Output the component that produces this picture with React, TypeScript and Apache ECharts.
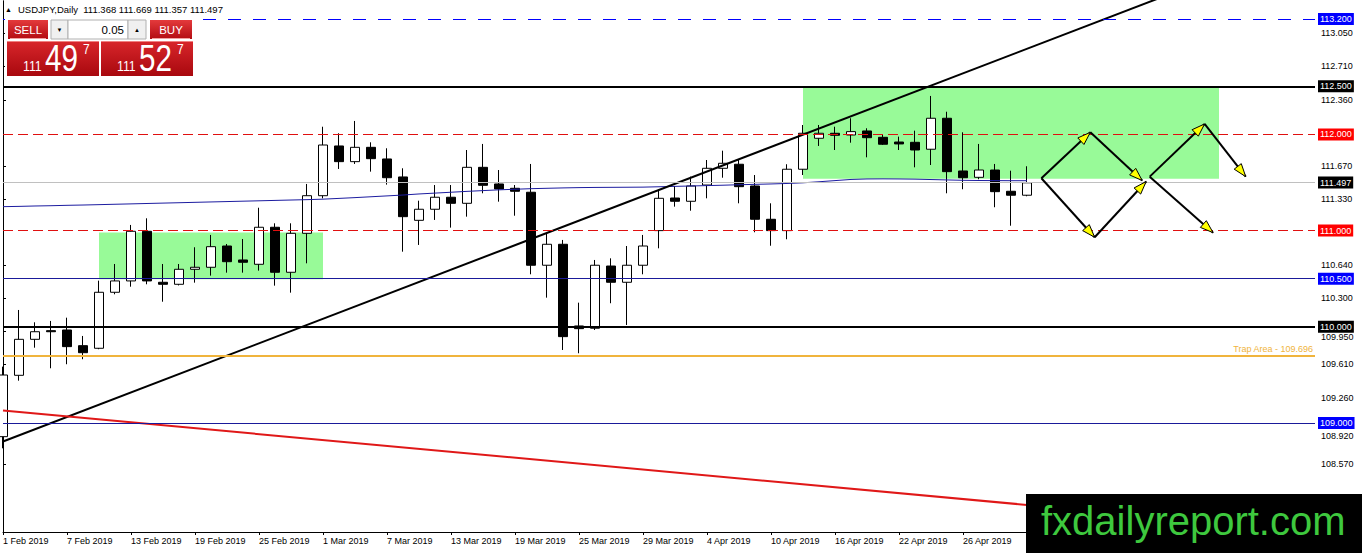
import React, { useEffect, useRef } from 'react';
import * as echarts from 'echarts';

const FONT = '"Liberation Sans", Arial, sans-serif';

// ---- categories (trading days) ----
const dates = [
  '1 Feb 2019', '4 Feb 2019', '5 Feb 2019', '6 Feb 2019', '7 Feb 2019', '8 Feb 2019', '11 Feb 2019', '12 Feb 2019',
  '13 Feb 2019', '14 Feb 2019', '15 Feb 2019', '18 Feb 2019', '19 Feb 2019', '20 Feb 2019', '21 Feb 2019', '22 Feb 2019',
  '25 Feb 2019', '26 Feb 2019', '27 Feb 2019', '28 Feb 2019',
  '1 Mar 2019', '4 Mar 2019', '5 Mar 2019', '6 Mar 2019', '7 Mar 2019', '8 Mar 2019', '11 Mar 2019', '12 Mar 2019',
  '13 Mar 2019', '14 Mar 2019', '15 Mar 2019', '18 Mar 2019', '19 Mar 2019', '20 Mar 2019', '21 Mar 2019', '22 Mar 2019',
  '25 Mar 2019', '26 Mar 2019', '27 Mar 2019', '28 Mar 2019', '29 Mar 2019',
  '1 Apr 2019', '2 Apr 2019', '3 Apr 2019', '4 Apr 2019', '5 Apr 2019', '8 Apr 2019', '9 Apr 2019', '10 Apr 2019',
  '11 Apr 2019', '12 Apr 2019', '15 Apr 2019', '16 Apr 2019', '17 Apr 2019', '18 Apr 2019', '19 Apr 2019', '22 Apr 2019',
  '23 Apr 2019', '24 Apr 2019', '25 Apr 2019', '26 Apr 2019', '29 Apr 2019', '30 Apr 2019', '1 May 2019', '2 May 2019',
];
const LAST_LABEL_INDEX = 60;
const TOTAL_SLOTS = 83; // candles + empty right margin (chart shift)

// ---- OHLC ----
const opens = [
  108.858, 109.496, 109.870, 109.960, 109.967, 109.804, 109.777, 110.359, 110.477, 110.993,
  110.463, 110.442, 110.598, 110.619, 110.840, 110.695, 110.650, 111.035, 110.567, 110.972,
  111.363, 111.880, 111.717, 111.866, 111.745, 111.558, 111.107, 111.222, 111.347, 111.284,
  111.658, 111.485, 111.440, 111.399, 110.640, 110.858, 110.009, 109.985, 110.632, 110.463,
  110.640, 111.000, 111.339, 111.305, 111.474, 111.648, 111.690, 111.464, 111.118, 111.000,
  111.638, 111.960, 112.012, 111.994, 112.036, 111.970, 111.921, 111.918, 111.846, 112.168,
  111.620, 111.554, 111.630, 111.409, 111.368,
];
const highs = [
  109.586, 110.175, 110.047, 110.061, 110.095, 109.905, 110.480, 110.653, 111.059, 111.128,
  110.653, 110.653, 110.827, 110.955, 110.861, 110.913, 111.238, 111.076, 111.076, 111.485,
  112.080, 112.012, 112.140, 111.918, 111.856, 111.648, 111.311, 111.474, 111.474, 111.838,
  111.901, 111.630, 111.474, 111.693, 110.965, 110.903, 110.251, 110.695, 110.712, 110.840,
  110.955, 111.430, 111.464, 111.561, 111.734, 111.831, 111.734, 111.578, 111.284, 111.690,
  112.098, 112.098, 112.080, 112.168, 112.064, 111.994, 111.977, 112.039, 112.400, 112.236,
  112.022, 111.901, 111.693, 111.623, 111.669,
];
const lows = [
  108.737, 109.440, 109.783, 109.569, 109.611, 109.663, 109.767, 110.338, 110.417, 110.442,
  110.261, 110.430, 110.459, 110.532, 110.563, 110.563, 110.584, 110.428, 110.355, 110.660,
  111.336, 111.641, 111.693, 111.613, 111.478, 110.781, 110.851, 111.111, 111.031, 111.145,
  111.388, 111.301, 111.155, 110.546, 110.303, 109.759, 109.725, 109.967, 110.245, 110.019,
  110.546, 110.816, 111.249, 111.207, 111.336, 111.550, 111.284, 110.983, 110.843, 110.910,
  111.578, 111.880, 111.838, 111.914, 111.762, 111.890, 111.838, 111.658, 111.682, 111.388,
  111.430, 111.534, 111.243, 111.051, 111.357,
];
const closes = [
  109.499, 109.870, 109.949, 109.949, 109.794, 109.731, 110.359, 110.477, 110.993, 110.477,
  110.442, 110.598, 110.619, 110.833, 110.677, 110.671, 111.035, 110.567, 110.972, 111.363,
  111.890, 111.717, 111.866, 111.748, 111.550, 111.145, 111.222, 111.347, 111.284, 111.658,
  111.471, 111.433, 111.409, 110.640, 110.858, 109.898, 109.981, 110.640, 110.463, 110.640,
  110.840, 111.336, 111.305, 111.464, 111.648, 111.700, 111.457, 111.118, 111.000, 111.638,
  112.012, 112.012, 111.991, 112.029, 111.966, 111.898, 111.901, 111.838, 112.168, 111.613,
  111.550, 111.630, 111.405, 111.368, 111.497,
];

// moving average
const movingAverage = [
  111.249, 111.252, 111.256, 111.259, 111.263, 111.266, 111.270, 111.274, 111.278, 111.282,
  111.286, 111.290, 111.294, 111.298, 111.302, 111.306, 111.310, 111.314, 111.318, 111.322,
  111.327, 111.335, 111.343, 111.352, 111.361, 111.370, 111.381, 111.390, 111.399, 111.408,
  111.416, 111.424, 111.430, 111.436, 111.440, 111.444, 111.447, 111.449, 111.450, 111.451,
  111.452, 111.456, 111.460, 111.464, 111.468, 111.472, 111.477, 111.481, 111.485, 111.490,
  111.497, 111.508, 111.520, 111.532, 111.537, 111.538, 111.537, 111.535, 111.531, 111.527,
  111.523, 111.521, 111.520, 111.519, 111.519,
];

// trend lines: price at first slot and at last slot
const supportTrend = [108.808, 114.038];
const fallingTrend = [109.13, 107.872];

// horizontal levels
const levels = [113.2, 112.5, 112.0, 111.497, 111.0, 110.5, 110.0, 109.696, 109.0];
const trapLabel = 'Trap Area - 109.696';

// y-axis tick labels
const yTicks = [113.05, 112.71, 112.36, 111.67, 111.33, 110.64, 110.3, 109.95, 109.61, 109.26, 108.92, 108.57];
const partlyHiddenTicks = [109.95, 108.92];
const Y_MIN = 107.867;
const Y_MAX = 113.387;

// rectangles [slotFrom, priceTop, slotTo, priceBottom]
const zones = [
  [6, 110.98, 20, 110.494],
  [50, 112.5, 76, 111.54],
];

// projection arrows [slotFrom, priceFrom, slotTo, priceTo]
const arrows = [
  [64.9, 111.544, 67.96, 112.022],
  [67.96, 112.022, 71.2, 111.521],
  [64.9, 111.544, 68.23, 110.931],
  [68.23, 110.931, 71.45, 111.511],
  [71.67, 111.561, 75.1, 112.109],
  [75.1, 112.109, 77.67, 111.561],
  [71.67, 111.561, 75.63, 110.979],
];

const headerText = 'USDJPY,Daily  111.368 111.669 111.357 111.497';
const sellPrice = ['111', '49', '7'];
const buyPrice = ['111', '52', '7'];
const lotSize = '0.05';
const watermark = 'fxdailyreport.com';

function buildOption() {
  const categories = [
    ...dates,
    ...Array.from({ length: TOTAL_SLOTS - dates.length }, (_, i) => 'slot' + (i + 1)),
  ];
  const candleData = dates.map((_, i) => [opens[i], closes[i], lows[i], highs[i]]);
  const endpoints = (pair: number[]) =>
    categories.map((_, i) => (i === 0 ? pair[0] : i === TOTAL_SLOTS - 1 ? pair[1] : null));

  const levelStyle: any[] = [
    { color: '#0000ff', type: [13, 12], width: 1, bg: '#0000ff' },
    { color: '#000000', type: 'solid', width: 2, bg: '#000000' },
    { color: '#e01010', type: [10, 5], width: 1, bg: '#ff0000' },
    { color: '#c0c0c0', type: 'solid', width: 1, bg: '#000000' },
    { color: '#e01010', type: [10, 5], width: 1, bg: '#ff0000' },
    { color: '#1a1a9a', type: 'solid', width: 1, bg: '#0000ff' },
    { color: '#000000', type: 'solid', width: 2, bg: '#000000' },
    { color: '#f0b43c', type: 'solid', width: 2, bg: null },
    { color: '#1a1a9a', type: 'solid', width: 1, bg: '#0000ff' },
  ];

  const markLineData = levels.map((v, i) => {
    const s = levelStyle[i];
    const label = s.bg
      ? {
          show: true,
          position: 'end',
          distance: 3,
          formatter: v.toFixed(3),
          color: '#ffffff',
          backgroundColor: s.bg,
          padding: [2, 2, 1, 2],
          fontSize: 9,
          lineHeight: 9,
          fontFamily: FONT,
        }
      : {
          show: true,
          position: 'insideEndTop',
          distance: 2,
          formatter: trapLabel,
          color: '#f0b43c',
          fontSize: 9,
          fontFamily: FONT,
        };
    return { yAxis: v, lineStyle: { color: s.color, type: s.type, width: s.width }, label };
  });

  const red = new echarts.graphic.LinearGradient(0, 0, 0, 1, [
    { offset: 0, color: '#e43a3c' },
    { offset: 1, color: '#b30c12' },
  ]);
  const redBox = new echarts.graphic.LinearGradient(0, 0, 0, 1, [
    { offset: 0, color: '#d8262b' },
    { offset: 1, color: '#a8080e' },
  ]);

  const txt = (x: number, y: number, text: string, size: number, color: string, extra: any = {}) => ({
    type: 'text',
    x,
    y,
    z: 100,
    ...extra,
    style: {
      text,
      fill: color,
      font: `${size}px ${FONT}`,
      align: extra.align || 'left',
      verticalAlign: 'middle',
    },
  });

  const priceBox = (x: number, parts: string[]) => [
    { type: 'rect', z: 100, shape: { x, y: 41, width: 92, height: 35 }, style: { fill: redBox } },
    { type: 'rect', z: 100, shape: { x, y: 41, width: 92, height: 1 }, style: { fill: '#f08080' } },
    txt(x + 16, 66.5, parts[0], 14, '#fff', { scaleX: 0.88 }),
    txt(x + 38, 58, parts[1], 37, '#fff', { scaleX: 0.8 }),
    txt(x + 76, 49.5, parts[2], 15, '#fff', { scaleX: 0.8 }),
  ];

  const graphic = [
    txt(5, 9.5, '▲', 7, '#000', {}),
    txt(18, 9.5, headerText, 9.5, '#000'),
    // trade panel
    { type: 'rect', z: 100, shape: { x: 5, y: 19, width: 189, height: 58 }, style: { fill: '#ffffff' } },
    { type: 'rect', z: 100, shape: { x: 8, y: 20, width: 40, height: 19 }, style: { fill: red } },
    { type: 'rect', z: 100, shape: { x: 10, y: 38, width: 36, height: 1 }, style: { fill: '#f2a0a0' } },
    txt(28, 30, 'SELL', 11.5, '#fff', { align: 'center' }),
    { type: 'rect', z: 100, shape: { x: 51, y: 20, width: 17, height: 19 }, style: { fill: '#f0f0f0', stroke: '#b0b0b0', lineWidth: 1 } },
    txt(59.5, 30, '▼', 6, '#000', { align: 'center' }),
    { type: 'rect', z: 100, shape: { x: 68, y: 20, width: 60, height: 19 }, style: { fill: '#ffffff', stroke: '#b0b0b0', lineWidth: 1 } },
    txt(124, 30, lotSize, 11.5, '#000', { align: 'right' }),
    { type: 'rect', z: 100, shape: { x: 128, y: 20, width: 18, height: 19 }, style: { fill: '#f0f0f0', stroke: '#b0b0b0', lineWidth: 1 } },
    txt(137, 30, '▲', 6, '#000', { align: 'center' }),
    { type: 'rect', z: 100, shape: { x: 150, y: 20, width: 42, height: 19 }, style: { fill: red } },
    { type: 'rect', z: 100, shape: { x: 152, y: 38, width: 38, height: 1 }, style: { fill: '#f2a0a0' } },
    txt(171, 30, 'BUY', 11.5, '#fff', { align: 'center' }),
    ...priceBox(7, sellPrice),
    ...priceBox(101, buyPrice),
    // watermark
    { type: 'rect', z: 100, shape: { x: 1026, y: 494, width: 336, height: 59 }, style: { fill: '#000000' } },
    txt(1041, 521, watermark, 40, '#3ec83e'),
  ];

  return {
    animation: false,
    backgroundColor: '#ffffff',
    textStyle: { fontFamily: FONT },
    grid: { left: 3, right: 47, top: 1, bottom: 21, containLabel: false },
    xAxis: [
      {
        type: 'category',
        data: categories,
        boundaryGap: false,
        axisLine: { show: true, lineStyle: { color: '#000', width: 1 } },
        axisTick: { show: true, interval: 3, length: 3, lineStyle: { color: '#000' } },
        axisLabel: {
          show: true,
          interval: 3,
          align: 'left',
          margin: 4,
          color: '#000',
          fontSize: 9,
          fontFamily: FONT,
          formatter: (v: string, idx: number) => (idx <= LAST_LABEL_INDEX ? v : ''),
        },
        splitLine: { show: false },
      },
      { type: 'value', min: 0, max: TOTAL_SLOTS - 1, show: false },
    ],
    yAxis: [
      {
        type: 'value',
        position: 'right',
        min: Y_MIN,
        max: Y_MAX,
        axisLine: { show: true, lineStyle: { color: '#000', width: 1 } },
        axisTick: { show: true, length: 3, customValues: yTicks, lineStyle: { color: '#000' } },
        axisLabel: {
          show: true,
          customValues: yTicks,
          margin: 6,
          color: '#000',
          fontSize: 9,
          fontFamily: FONT,
          formatter: (v: number) =>
            partlyHiddenTicks.some((t) => Math.abs(t - v) < 1e-6) ? `{low|${v.toFixed(3)}}` : v.toFixed(3),
          rich: {
            low: { fontSize: 9, fontFamily: FONT, color: '#000', padding: [11, 0, 0, 0] },
          },
        },
        splitLine: { show: false },
      },
      {
        type: 'value',
        position: 'left',
        min: Y_MIN,
        max: Y_MAX,
        axisLine: { show: true, lineStyle: { color: '#000', width: 1 } },
        axisTick: { show: false },
        axisLabel: { show: false },
        splitLine: { show: false },
      },
    ],
    series: [
      {
        type: 'custom',
        name: 'zones',
        xAxisIndex: 1,
        z: 1,
        silent: true,
        encode: { x: [0, 2], y: [1, 3] },
        data: zones,
        renderItem: (params: any, api: any) => {
          const a = api.coord([api.value(0), api.value(1)]);
          const b = api.coord([api.value(2), api.value(3)]);
          return {
            type: 'rect',
            shape: { x: a[0], y: a[1], width: b[0] - a[0], height: b[1] - a[1] },
            style: { fill: '#98fa98' },
          };
        },
      },
      {
        type: 'candlestick',
        name: 'USDJPY',
        z: 3,
        barWidth: 9,
        silent: true,
        data: candleData,
        itemStyle: {
          color: '#ffffff',
          color0: '#000000',
          borderColor: '#000000',
          borderColor0: '#000000',
          borderWidth: 1,
        },
      },
      {
        type: 'line',
        name: 'MA',
        z: 4,
        silent: true,
        symbol: 'none',
        data: movingAverage,
        lineStyle: { color: '#1c1ca0', width: 1 },
        markLine: { silent: true, symbol: ['none', 'none'], animation: false, data: markLineData },
      },
      {
        type: 'line',
        name: 'support trend',
        z: 4,
        silent: true,
        symbol: 'none',
        connectNulls: true,
        data: endpoints(supportTrend),
        lineStyle: { color: '#000000', width: 2 },
      },
      {
        type: 'line',
        name: 'falling trend',
        z: 4,
        silent: true,
        symbol: 'none',
        connectNulls: true,
        data: endpoints(fallingTrend),
        lineStyle: { color: '#e01818', width: 2 },
      },
      {
        type: 'custom',
        name: 'arrows',
        xAxisIndex: 1,
        z: 6,
        silent: true,
        encode: { x: [0, 2], y: [1, 3] },
        data: arrows,
        renderItem: (params: any, api: any) => {
          const a = api.coord([api.value(0), api.value(1)]);
          const b = api.coord([api.value(2), api.value(3)]);
          const dx = b[0] - a[0];
          const dy = b[1] - a[1];
          const len = Math.hypot(dx, dy) || 1;
          const ux = dx / len;
          const uy = dy / len;
          const L = 13;
          const W = 4.5;
          const bx = b[0] - ux * L;
          const by = b[1] - uy * L;
          return {
            type: 'group',
            children: [
              { type: 'line', shape: { x1: a[0], y1: a[1], x2: b[0], y2: b[1] }, style: { stroke: '#000', lineWidth: 2 } },
              {
                type: 'polygon',
                shape: { points: [[b[0], b[1]], [bx - uy * W, by + ux * W], [bx + uy * W, by - ux * W]] },
                style: { fill: '#ffff00', stroke: '#000', lineWidth: 1 },
              },
            ],
          };
        },
      },
    ],
    graphic,
  };
}

export default function App() {
  const ref = useRef<HTMLDivElement>(null);
  useEffect(() => {
    if (!ref.current) return;
    const chart = echarts.init(ref.current, null, { renderer: 'svg' });
    chart.setOption(buildOption() as any);
    return () => chart.dispose();
  }, []);
  return (
    <div
      ref={ref}
      style={{ position: 'fixed', left: 0, top: 0, width: 1362, height: 553, background: '#fff' }}
    />
  );
}
